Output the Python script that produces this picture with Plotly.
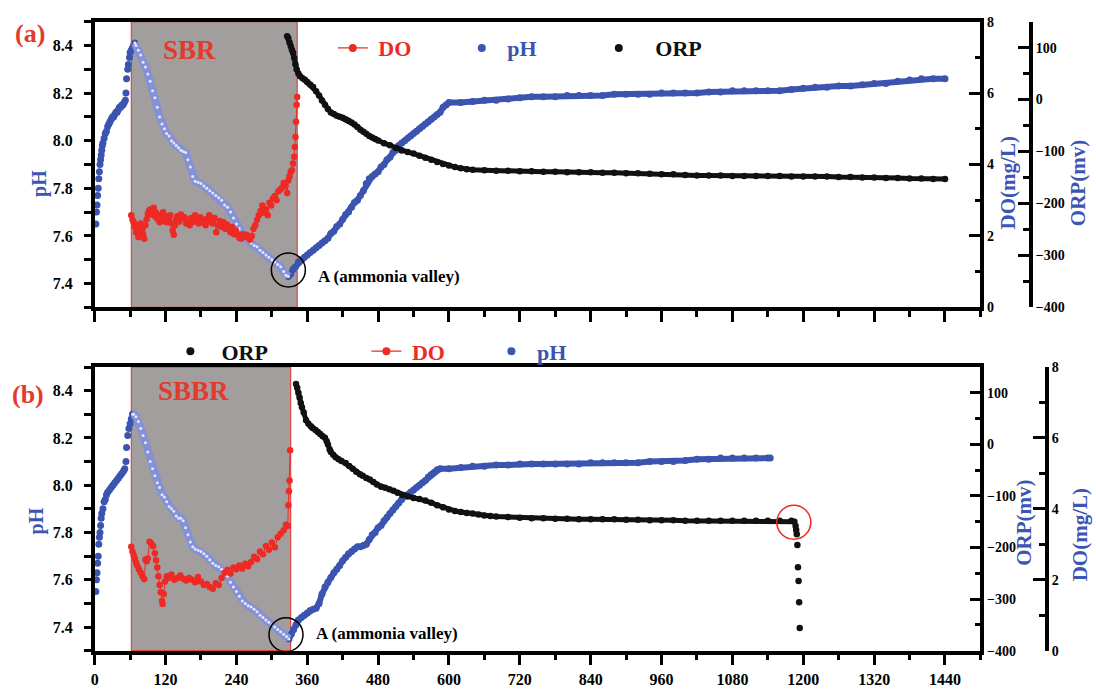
import numpy as np
import plotly.graph_objects as go

W, H = 1096, 691

# ---------------- Panel (a): SBR ----------------
a_ph_t = [2, 3, 4, 5, 6, 7, 8, 9, 10, 11, 12, 13, 14, 16, 18, 20, 22, 24, 26, 28, 30, 32, 34, 36, 38, 40,
          42, 44, 46, 48, 50, 52, 53, 54, 56, 57, 59, 60, 62, 64, 66, 68,
          70, 74, 78, 82, 86, 90, 94, 98, 102, 106, 110, 114, 118, 122, 126, 130, 134, 138, 142, 146, 150,
          154, 158, 162, 166, 170, 175, 180, 185, 190, 195, 200, 205, 210, 215, 220, 225, 230, 235, 240,
          245, 250, 255, 260, 265, 270, 275, 280, 285, 290, 295, 300, 305, 310, 315, 320, 324, 328,
          332, 336, 340, 345, 350, 355, 360, 365, 370, 375, 380, 385, 390, 395, 400, 405, 410, 415, 420,
          425, 430, 435, 440, 445, 450, 455, 460, 465, 470, 475, 480, 485, 490, 495, 500, 505, 510, 515,
          520, 525, 530, 535, 540, 545, 550, 555, 560, 565, 570, 575, 580, 585, 590, 595, 600,
          620, 640, 660, 680, 700, 720, 740, 760, 780, 800, 820, 840, 860, 880, 900, 920, 940, 960, 980,
          1000, 1020, 1040, 1060, 1080, 1100, 1120, 1140, 1160, 1180, 1200, 1220, 1240, 1260, 1280, 1300,
          1320, 1340, 1360, 1380, 1400, 1420, 1440]
a_ph = [7.65, 7.70, 7.73, 7.77, 7.80, 7.84, 7.87, 7.90, 7.92, 7.94, 7.96, 7.98, 7.99, 8.01, 8.03, 8.04,
        8.06, 8.07, 8.08, 8.09, 8.10, 8.10, 8.11, 8.12, 8.12, 8.13,
        8.14, 8.14, 8.15, 8.15, 8.16, 8.17, 8.20, 8.26, 8.30, 8.32, 8.35, 8.37, 8.38, 8.39, 8.40, 8.41,
        8.40, 8.38, 8.36, 8.33, 8.31, 8.28, 8.25, 8.21, 8.18, 8.14, 8.10, 8.07, 8.05, 8.03, 8.02, 8.00,
        7.99, 7.98, 7.97, 7.96, 7.955,
        7.95, 7.92, 7.89, 7.85, 7.83, 7.825, 7.82, 7.81, 7.80, 7.79, 7.78, 7.77, 7.76, 7.75, 7.73, 7.72,
        7.70, 7.675, 7.65,
        7.63, 7.605, 7.59, 7.58, 7.57, 7.56, 7.555, 7.54, 7.53, 7.52, 7.51, 7.50, 7.49, 7.48, 7.47, 7.45,
        7.435, 7.43,
        7.44, 7.46, 7.47, 7.49, 7.50, 7.51, 7.52, 7.53, 7.54, 7.55, 7.56, 7.57, 7.58, 7.59, 7.61, 7.62,
        7.64, 7.65, 7.67,
        7.69, 7.70, 7.72, 7.74, 7.75, 7.77, 7.79, 7.82, 7.84, 7.85, 7.86, 7.87, 7.89, 7.90, 7.92, 7.93,
        7.95, 7.96, 7.98,
        7.99, 8.00, 8.01, 8.02, 8.03, 8.04, 8.05, 8.06, 8.07, 8.08, 8.09, 8.10, 8.11, 8.12, 8.14, 8.15,
        8.16,
        8.16, 8.165, 8.17, 8.17, 8.175, 8.18, 8.185, 8.185, 8.185, 8.19, 8.19, 8.19, 8.19, 8.195, 8.195,
        8.195, 8.195, 8.20, 8.20,
        8.20, 8.20, 8.205, 8.205, 8.21, 8.21, 8.21, 8.21, 8.21, 8.215, 8.22, 8.225, 8.225, 8.23, 8.23,
        8.235, 8.24, 8.24, 8.25, 8.255, 8.26, 8.26, 8.26]

a_orp_t = [326, 328, 330, 332, 334, 336, 338, 340, 342, 345, 348, 352, 356, 360, 365, 370, 375, 380, 385,
           390, 395, 400, 405, 410, 415, 420, 425, 430, 435, 440, 445, 450, 455, 460, 465, 470, 475, 480,
           490, 500, 510, 520, 530, 540, 550, 560, 570, 580, 590, 600, 610, 620, 630, 640, 660, 680, 700,
           720, 740, 760, 780, 800, 820, 840, 860, 880, 900, 920, 940, 960, 980, 1000, 1020, 1040, 1060,
           1080, 1100, 1120, 1140, 1160, 1180, 1200, 1220, 1240, 1260, 1280, 1300, 1320, 1340, 1360, 1380,
           1400, 1420, 1440]
a_orp = [122, 118, 110, 103, 96, 90, 80, 68, 58, 50, 45, 41, 38, 34, 29, 24, 16, 8, -2,
         -10, -18, -25, -28, -31, -33, -35, -38, -41, -44, -48, -53, -58, -62, -66, -70, -73, -76, -79,
         -84, -88, -93, -98, -101, -104, -108, -112, -116, -120, -124, -127, -130, -132, -134, -135, -136,
         -137, -137, -138, -138, -139, -139, -140, -140, -140, -141, -141, -142, -142, -143, -144, -144,
         -145, -146, -146, -146, -147, -147, -147, -147, -147, -148, -148, -148, -148, -149, -149, -150,
         -150, -151, -151, -152, -152, -153, -153]

a_do_t = [62, 64, 66, 68, 70, 72, 74, 76, 78, 80, 82, 84, 86, 88, 90, 92, 94, 96, 98, 100, 102, 104, 106,
          108, 110, 112, 114, 116, 118, 120, 122, 124, 126, 128, 130, 132, 134, 136, 138, 140, 143, 146,
          149, 152, 155, 158, 161, 164, 167, 170, 173, 176, 179, 182, 185, 188, 191, 194, 197, 200, 203,
          206, 209, 212, 215, 218, 221, 224, 227, 230, 233, 236, 239, 242, 245, 248, 251, 254, 257, 260,
          263, 266, 269, 272, 275, 278, 281, 284, 287, 290, 293, 296, 299, 302, 305, 308, 311, 314, 317,
          320, 323, 326, 328, 330, 332, 334, 336, 338, 339, 340, 341, 342, 343]
a_do = [2.58, 2.45, 2.38, 2.25, 2.10, 2.30, 1.97, 2.15, 2.35, 2.20, 2.05, 1.92, 2.30, 2.47, 2.62, 2.70,
        2.74, 2.60, 2.68, 2.79, 2.55, 2.65, 2.48, 2.58, 2.38, 2.52, 2.45, 2.66, 2.50, 2.40, 2.38, 2.55,
        2.45, 2.58, 2.35, 2.15, 2.03, 2.30, 2.47, 2.55, 2.40, 2.60, 2.48, 2.52, 2.35, 2.45, 2.30, 2.50,
        2.40, 2.58, 2.45, 2.35, 2.52, 2.38, 2.45, 2.30, 2.48, 2.58, 2.40, 2.35, 2.50, 2.10, 2.30, 2.42,
        2.25, 2.38, 2.20, 2.32, 2.20, 2.10, 2.25, 2.05, 2.15, 2.03, 1.95, 1.92, 2.05, 1.98, 2.03, 1.95,
        1.89, 2.00, 2.20, 2.30, 2.45, 2.58, 2.70, 2.85, 2.65, 2.75, 2.58, 2.93, 2.85, 3.05, 3.12, 3.00,
        3.25, 3.29, 3.35, 3.48, 3.40, 3.20, 3.55, 3.67, 3.80, 3.84, 4.03, 4.22, 4.49, 4.77, 5.20, 5.67,
        5.89]
a_phase = [62, 343]

# ---------------- Panel (b): SBBR ----------------
b_ph_t = [2, 3, 4, 5, 6, 7, 8, 9, 10, 11, 12, 14, 16, 18, 20, 22, 25, 28, 31, 34, 37, 40, 43, 46, 49, 51,
          53, 54, 56, 58, 60, 62, 64, 66,
          70, 74, 78, 82, 86, 90, 94, 98, 102, 106, 110, 114, 118, 122, 126, 130, 134, 138, 142, 146, 150,
          154, 158, 162, 166, 170, 175, 180, 185, 190, 195, 200, 205, 210, 215, 220, 225, 230, 235, 240,
          245, 250, 255, 260, 265, 270, 275, 280, 285, 290, 295, 300, 305, 310, 315, 320, 325, 329,
          333, 337, 341, 345, 350, 355, 360, 365, 370, 375, 380, 385, 390, 395, 400, 405, 410, 415, 420,
          425, 430, 435, 440, 445, 450, 455, 460, 465, 470, 475, 480, 485, 490, 495, 500, 505, 510, 515,
          520, 525, 530, 535, 540, 545, 550, 555, 560, 565, 570, 575, 580, 585,
          600, 620, 640, 660, 680, 700, 720, 740, 760, 780, 800, 820, 840, 860, 880, 900, 920, 940, 960,
          980, 1000, 1020, 1040, 1060, 1080, 1100, 1120, 1140, 1144]
b_ph = [7.55, 7.60, 7.63, 7.67, 7.70, 7.75, 7.78, 7.80, 7.83, 7.86, 7.88, 7.90, 7.93, 7.94, 7.96, 7.97,
        7.98, 7.99, 8.00, 8.01, 8.02, 8.03, 8.04, 8.05, 8.06, 8.07,
        8.10, 8.16, 8.21, 8.24, 8.26, 8.28, 8.30, 8.30,
        8.29, 8.27, 8.24, 8.21, 8.18, 8.14, 8.10, 8.07, 8.04, 8.01, 7.99, 7.96, 7.95, 7.93, 7.91, 7.90,
        7.89, 7.87, 7.86, 7.86, 7.85,
        7.82, 7.79, 7.76, 7.74, 7.73, 7.725, 7.72, 7.71, 7.70, 7.685, 7.67, 7.66, 7.655, 7.645, 7.635,
        7.615, 7.59, 7.57, 7.55,
        7.53, 7.51, 7.50, 7.49, 7.485, 7.475, 7.465, 7.45, 7.44, 7.43, 7.42, 7.41, 7.40, 7.39, 7.38, 7.37,
        7.36, 7.35,
        7.37, 7.39, 7.41, 7.43, 7.44, 7.45, 7.46, 7.47, 7.475, 7.48, 7.50, 7.54, 7.57, 7.59, 7.61, 7.63,
        7.645, 7.66, 7.68,
        7.695, 7.71, 7.72, 7.73, 7.74, 7.74, 7.745, 7.75, 7.77, 7.79, 7.80, 7.82, 7.83, 7.85, 7.865, 7.88,
        7.895, 7.91, 7.925,
        7.94, 7.955, 7.96, 7.97, 7.98, 7.99, 8.00, 8.01, 8.02, 8.035, 8.045, 8.055, 8.065, 8.07,
        8.07, 8.075, 8.08, 8.08, 8.085, 8.085, 8.09, 8.09, 8.09, 8.09, 8.09, 8.09, 8.095, 8.095, 8.095,
        8.095, 8.095, 8.10, 8.10,
        8.10, 8.105, 8.11, 8.11, 8.115, 8.115, 8.115, 8.115, 8.115, 8.115]

b_orp_t = [341, 343, 345, 347, 349, 351, 354, 358, 362, 366, 369, 374, 378, 382, 386, 390, 393, 395, 398,
           400, 404, 408, 413, 418, 425, 431, 437, 443, 449, 454, 460, 466, 472, 478, 485, 492, 499, 506,
           513, 521, 530, 540, 550, 560, 570, 580, 590, 600, 610, 620, 630, 640, 650, 660, 670, 680, 700,
           720, 740, 760, 780, 800, 820, 840, 860, 880, 900, 920, 940, 960, 980, 1000, 1020, 1040, 1060,
           1080, 1100, 1120, 1140, 1160, 1180, 1185, 1187, 1188, 1189, 1190, 1191, 1192, 1193, 1194]
b_orp = [117, 110, 100, 91, 80, 72, 62, 47, 40, 35, 32, 28, 24, 20, 16, 13, 6, 0, -10,
         -15, -20, -25, -29, -32, -36, -42, -47, -53, -58, -61, -65, -68, -73, -78, -82, -84, -87, -90,
         -94, -98, -101, -104, -106, -109, -113, -118, -122, -126, -129, -131, -133, -134, -136, -138,
         -139, -140, -141, -142, -143, -143, -144, -144, -145, -145, -145, -145, -146, -146, -147, -147,
         -147, -148, -148, -148, -148, -148, -148, -148, -148, -148, -148, -150, -158, -166, -174, -195,
         -238, -265, -306, -356]
b_orp_drop_t = 1186   # after this the ORP falls sharply (red circle)

b_do_t = [62, 64, 66, 68, 70, 72, 75, 78, 81, 84, 86, 88, 90, 93, 96, 99, 102, 104, 106, 108, 110, 112,
          114, 115, 117, 119, 122, 125, 130, 135, 140, 145, 150, 155, 160, 165, 170, 175, 180, 185, 190,
          195, 200, 205, 210, 215, 220, 225, 230, 235, 240, 245, 250, 255, 260, 265, 270, 275, 280, 285,
          290, 295, 300, 305, 310, 315, 320, 324, 327, 328, 329, 330, 331]
b_do = [2.93, 2.80, 2.70, 2.60, 2.48, 2.40, 2.30, 2.20, 2.10, 2.02, 2.57, 2.52, 2.60, 3.07, 3.02, 2.95,
        2.75, 2.55, 2.35, 2.10, 1.85, 1.65, 1.40, 1.32, 1.60, 1.95, 2.10, 2.05, 2.15, 2.00, 2.05, 2.12,
        2.03, 1.98, 2.05, 2.00, 1.93, 2.08, 1.95, 1.85, 1.88, 1.80, 1.75, 1.90, 1.85, 2.05, 2.20, 2.28,
        2.18, 2.35, 2.30, 2.40, 2.32, 2.45, 2.38, 2.50, 2.65, 2.58, 2.80, 2.72, 2.95, 2.85, 3.05, 2.92,
        3.20, 3.30, 3.40, 3.55, 3.52, 4.10, 4.50, 4.80, 5.65]
b_phase = [62, 332]

x_major = list(range(0, 1441, 120))

# ---------------- styling ----------------
FONT = "Liberation Serif"
BLUE = "#3b54b0"
LIGHTBLUE = "#8591d6"
RED = "#ee2a24"
BLACK = "#111111"
TITLE_BLUE = "#3d55b2"
LABEL_RED = "#e23a2c"
GRAY = "#a29e9e"
NB = "\u00a0"


def px(x):
    return x / W


def py(y):
    return 1 - y / H


X_DOM = [px(91), px(980)]
A_DOM = [py(307), py(15)]
B_DOM = [py(658), py(368)]

fig = go.Figure()


def add_ph(t, v, xa, ya):
    t = np.asarray(t, float)
    v = np.asarray(v, float)
    ip = int(np.argmax(np.where(t < 200, v, -np.inf)))
    iv = int(np.argmin(np.where(t < 400, v, np.inf)))
    # rising phase before aeration peak: discrete markers
    fig.add_trace(go.Scatter(x=t[:ip + 1], y=v[:ip + 1], xaxis=xa, yaxis=ya, mode="markers",
                             marker=dict(color=BLUE, size=7), showlegend=False, hoverinfo="skip"))
    # after the ammonia valley
    fig.add_trace(go.Scatter(x=t[iv:], y=v[iv:], xaxis=xa, yaxis=ya, mode="lines+markers",
                             line=dict(color=BLUE, width=6), marker=dict(color=BLUE, size=7),
                             showlegend=False, hoverinfo="skip"))
    # aeration phase (peak -> valley): light hollow-looking band
    fig.add_trace(go.Scatter(x=t[ip:iv + 1], y=v[ip:iv + 1], xaxis=xa, yaxis=ya, mode="lines+markers",
                             line=dict(color=LIGHTBLUE, width=8),
                             marker=dict(color="#e4e7f8", size=3), showlegend=False,
                             hoverinfo="skip"))


def add_orp(t, v, xa, ya, line_end=None):
    t = np.asarray(t, float)
    v = np.asarray(v, float)
    m = np.ones(len(t), bool) if line_end is None else (t <= line_end)
    fig.add_trace(go.Scatter(x=t[m], y=v[m], xaxis=xa, yaxis=ya, mode="lines",
                             line=dict(color=BLACK, width=5), showlegend=False, hoverinfo="skip"))
    fig.add_trace(go.Scatter(x=t, y=v, xaxis=xa, yaxis=ya, mode="markers",
                             marker=dict(color=BLACK, size=6.5), showlegend=False, hoverinfo="skip"))


def add_do(t, v, xa, ya):
    fig.add_trace(go.Scatter(x=t, y=v, xaxis=xa, yaxis=ya, mode="lines+markers",
                             line=dict(color=RED, width=1), marker=dict(color=RED, size=6.5),
                             showlegend=False, hoverinfo="skip"))


# panel (a)
add_ph(a_ph_t, a_ph, "x", "y")
add_do(a_do_t, a_do, "x", "y2")
add_orp(a_orp_t, a_orp, "x", "y3")
# panel (b)
add_ph(b_ph_t, b_ph, "x2", "y4")
add_orp(b_orp_t, b_orp, "x2", "y5", line_end=b_orp_drop_t)
add_do(b_do_t, b_do, "x2", "y6")

# legend entries
LEG_FONT = dict(family=FONT, size=22, weight="bold")


def leg(name, color, mode, legend, width, pad):
    fig.add_trace(go.Scatter(x=[None], y=[None], mode=mode,
                             name=NB * pad + '<span style="color:%s">%s</span>' % (color, name),
                             legend=legend,
                             line=dict(color=color, width=1.2), marker=dict(color=color, size=8),
                             legendwidth=width, hoverinfo="skip"))


leg("DO", RED, "lines+markers", "legend", 84, 1)
leg("pH", BLUE, "markers", "legend", 92, 1)
leg("ORP", BLACK, "markers", "legend", 70, 3)
leg("ORP", BLACK, "markers", "legend2", 151, 2)
leg("DO", RED, "lines+markers", "legend2", 80, 1)
leg("pH", BLUE, "markers", "legend2", 60, 1)

# ---------------- axes ----------------
AX = dict(showgrid=False, zeroline=False, showline=True, linecolor="black", linewidth=3.5,
          tickcolor="black", tickwidth=3)


def xaxis(anchor, labels):
    return dict(AX, domain=X_DOM, anchor=anchor, range=[0, 1500], tickmode="array",
                tickvals=x_major, ticks="outside", ticklen=11, mirror=True,
                showticklabels=labels,
                tickfont=dict(family=FONT, size=16, weight="bold", color="black"),
                minor=dict(dtick=60, tick0=0, ticks="outside", ticklen=6, tickwidth=3,
                           tickcolor="black", showgrid=False))


def ph_axis(dom, anchor):
    return dict(AX, domain=dom, anchor=anchor, range=[7.3, 8.5], tick0=7.4, dtick=0.2,
                tickformat=".1f", ticks="outside", ticklen=7, ticklabelstandoff=8,
                tickfont=dict(family=FONT, size=16, weight="bold", color="black"),
                minor=dict(dtick=0.1, tick0=7.3, ticks="outside", ticklen=7, tickwidth=3,
                           tickcolor="black", showgrid=False))


def do_axis(over, anchor, position=None):
    d = dict(AX, overlaying=over, side="right", range=[0, 8], dtick=2, tick0=0, ticks="inside",
             ticklen=12, tickfont=dict(family=FONT, size=14, weight="bold", color="black"),
             minor=dict(dtick=1, tick0=0, ticks="inside", ticklen=6, tickwidth=3,
                        tickcolor="black", showgrid=False))
    if position is None:
        d["anchor"] = anchor
    else:
        d["anchor"] = "free"
        d["position"] = position
    return d


def orp_axis(over, anchor, position=None):
    d = dict(AX, overlaying=over, side="right", range=[-400, 150], dtick=100, tick0=-400,
             ticks="inside", ticklen=11,
             tickfont=dict(family=FONT, size=14, weight="bold", color="black"),
             minor=dict(dtick=50, tick0=-400, ticks="inside", ticklen=6, tickwidth=3,
                        tickcolor="black", showgrid=False))
    if position is None:
        d["anchor"] = anchor
    else:
        d["anchor"] = "free"
        d["position"] = position
    return d


fig.update_layout(
    width=W, height=H, autosize=False,
    margin=dict(l=0, r=0, t=0, b=0),
    paper_bgcolor="white", plot_bgcolor="white",
    font=dict(family=FONT, color="black"),
    xaxis=xaxis("y", False),
    yaxis=ph_axis(A_DOM, "x"),
    yaxis2=do_axis("y", "x"),
    yaxis3=orp_axis("y", "x", px(1031)),
    xaxis2=xaxis("y4", True),
    yaxis4=ph_axis(B_DOM, "x2"),
    yaxis5=orp_axis("y4", "x2"),
    yaxis6=do_axis("y4", "x2", px(1047)),
    legend=dict(orientation="h", x=px(330), xanchor="left", y=py(42), yanchor="middle",
                font=LEG_FONT, bgcolor="rgba(0,0,0,0)", itemclick=False, traceorder="normal"),
    legend2=dict(orientation="h", x=px(167), xanchor="left", y=py(352), yanchor="middle",
                 font=LEG_FONT, bgcolor="rgba(0,0,0,0)", itemclick=False, traceorder="normal"),
    showlegend=True,
)

# shaded aeration windows
for ph, ya in ((a_phase, "y"), (b_phase, "y4")):
    fig.add_shape(type="rect", xref="x" if ya == "y" else "x2", yref=ya + " domain",
                  x0=ph[0], x1=ph[1], y0=0, y1=1, fillcolor=GRAY,
                  line=dict(color=RED, width=1), layer="below")

# circles around ammonia valley and ORP drop
fig.add_shape(type="circle", xref="x", yref="y", xsizemode="pixel", ysizemode="pixel",
              xanchor=328, yanchor=7.457, x0=-17, x1=17, y0=-17, y1=17,
              line=dict(color="black", width=1.5))
fig.add_shape(type="circle", xref="x2", yref="y4", xsizemode="pixel", ysizemode="pixel",
              xanchor=324, yanchor=7.368, x0=-17, x1=17, y0=-17, y1=17,
              line=dict(color="black", width=1.5))
fig.add_shape(type="circle", xref="x2", yref="y5", xsizemode="pixel", ysizemode="pixel",
              xanchor=1184, yanchor=-151, x0=-17, x1=17, y0=-17, y1=17,
              line=dict(color=RED, width=1.5))


def ann(text, x, y, size, color, angle=0, xanchor="center"):
    fig.add_annotation(text=text, x=px(x), y=py(y), xref="paper", yref="paper", showarrow=False,
                       xanchor=xanchor, yanchor="middle", textangle=angle,
                       font=dict(family=FONT, size=size, color=color, weight="bold"))


ann("(a)", 26, 27, 26, LABEL_RED)
ann("(b)", 24, 396, 26, LABEL_RED)
ann("SBR", 186, 44, 27, LABEL_RED)
ann("SBBR", 190, 393, 27, LABEL_RED)
ann("pH", 35, 180, 20, TITLE_BLUE, -90)
ann("pH", 33, 525, 20, TITLE_BLUE, -90)
ann("DO(mg/L)", 1008, 180, 21, TITLE_BLUE, -90)
ann("ORP(mv)", 1078, 180, 21, TITLE_BLUE, -90)
ann("ORP(mv)", 1023, 527, 21, TITLE_BLUE, -90)
ann("DO(mg/L)", 1080, 540, 21, TITLE_BLUE, -90)
ann("A (ammonia valley)", 313, 275, 17, "black", xanchor="left")
ann("A (ammonia valley)", 311, 640, 17, "black", xanchor="left")

fig.write_html("out.html")
